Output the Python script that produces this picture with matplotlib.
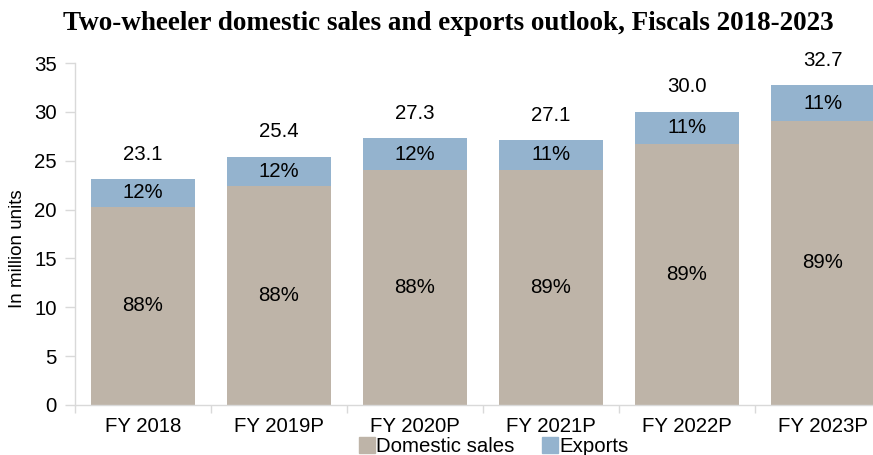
import matplotlib
matplotlib.use("Agg")
import matplotlib.pyplot as plt
from matplotlib.lines import Line2D

categories = ["FY 2018", "FY 2019P", "FY 2020P", "FY 2021P", "FY 2022P", "FY 2023P"]
domestic = [20.3, 22.4, 24.0, 24.1, 26.7, 29.1]
exports = [2.8, 3.0, 3.3, 3.0, 3.3, 3.6]
totals = [23.1, 25.4, 27.3, 27.1, 30.0, 32.7]
domestic_pct = ["88%", "88%", "88%", "89%", "89%", "89%"]
exports_pct = ["12%", "12%", "12%", "11%", "11%", "11%"]

c_dom = "#BEB4A8"
c_exp = "#94B3CE"
c_axis = "#D9D9D9"

plt.rcParams["font.family"] = ["Liberation Sans", "DejaVu Sans"]

fig = plt.figure(figsize=(8.73, 4.55), dpi=100)
ax = fig.add_axes([75/873, 50/455, 816/873, 342/455])

x = list(range(len(categories)))
w = 0.77
ax.bar(x, domestic, width=w, color=c_dom, label="Domestic sales")
ax.bar(x, exports, width=w, bottom=domestic, color=c_exp, label="Exports")

fs = 14.7
for i in x:
    ax.text(i, domestic[i] / 2, domestic_pct[i], ha="center", va="center", fontsize=fs, color="black")
    ax.text(i, domestic[i] + exports[i] / 2, exports_pct[i], ha="center", va="center", fontsize=fs, color="black")
    ax.annotate(f"{totals[i]:.1f}", (i, totals[i]), xytext=(0, 18), textcoords="offset points",
                ha="center", va="center", fontsize=fs, color="black")

ax.set_xlim(-0.5, len(categories) - 0.5)
ax.set_ylim(0, 35)
ax.set_yticks(range(0, 36, 5))
ax.set_xticks(x)
ax.set_xticklabels(categories)
ax.set_xticks([i - 0.5 for i in range(len(categories) + 1)], minor=True)
ax.tick_params(axis="x", which="major", length=0, pad=9, labelsize=fs)
ax.tick_params(axis="x", which="minor", length=6, color=c_axis, width=1)
ax.tick_params(axis="y", length=7, color=c_axis, width=1, labelsize=fs, pad=6)

for s in ["top", "right"]:
    ax.spines[s].set_visible(False)
for s in ["left", "bottom"]:
    ax.spines[s].set_color(c_axis)
    ax.spines[s].set_linewidth(1)

fig.text(18/873, 1 - 249/455, "In million units", rotation=90, ha="center", va="center", fontsize=13.5)

fig.text(448/873, 0.948, "Two-wheeler domestic sales and exports outlook, Fiscals 2018-2023",
         ha="center", va="center", fontsize=19.5, fontweight="bold", family="Liberation Serif")

handles = [Line2D([], [], marker="s", linestyle="none", markersize=11, color=c_dom),
           Line2D([], [], marker="s", linestyle="none", markersize=11, color=c_exp)]
fig.legend(handles, ["Domestic sales", "Exports"], loc="center", bbox_to_anchor=(0.565, 0.019),
           ncol=2, frameon=False, fontsize=fs, handletextpad=0.0, columnspacing=1.3, handlelength=0.9,
           borderaxespad=0, borderpad=0)

fig.savefig("out.png", dpi=100)
